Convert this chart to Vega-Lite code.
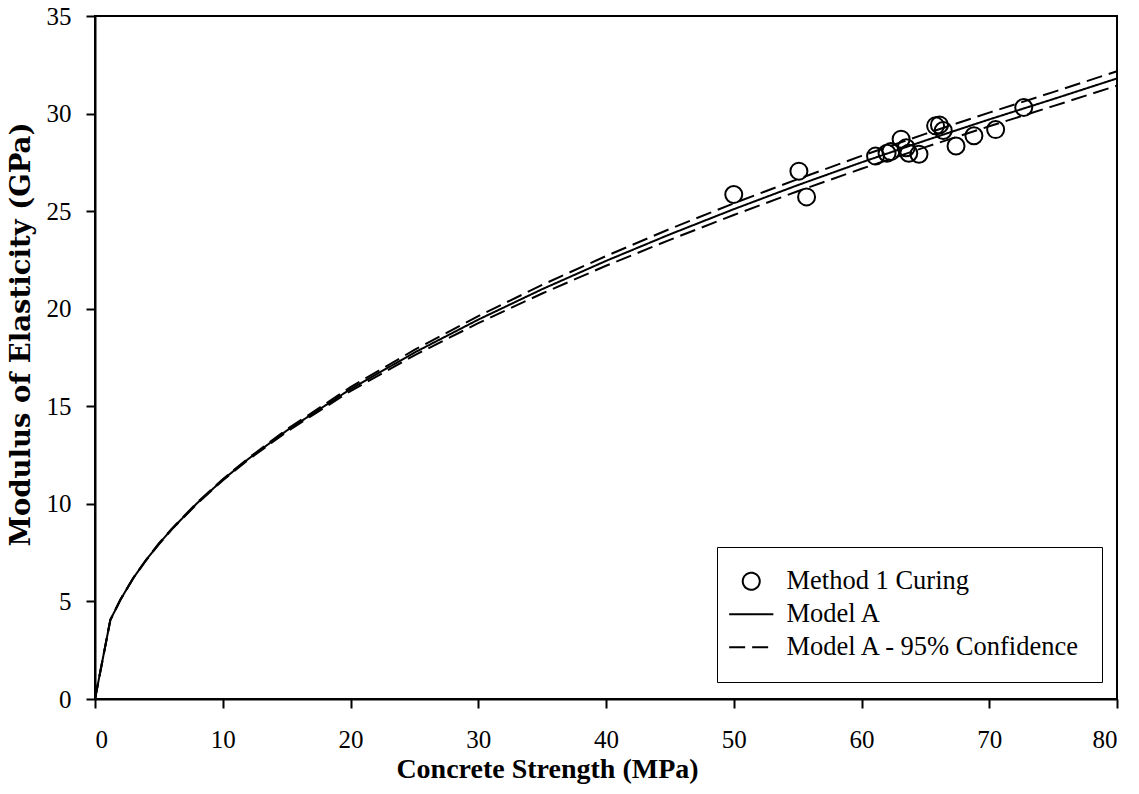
{
  "$schema": "https://vega.github.io/schema/vega-lite/v6.json",
  "width": 1022,
  "height": 683,
  "autosize": "none",
  "padding": {"left": 95, "top": 16, "right": 22, "bottom": 95},
  "background": "white",
  "config": {
    "view": {"stroke": "black", "strokeWidth": 2},
    "font": "Liberation Serif",
    "axis": {
      "domainColor": "black", "domainWidth": 2, "tickColor": "black", "tickWidth": 2, "tickSize": 9,
      "grid": false, "labelFont": "Liberation Serif", "labelFontSize": 25, "labelColor": "black",
      "titleFont": "Liberation Serif", "titleFontSize": 28, "titleFontWeight": "bold", "titleColor": "black"
    },
    "legend": {
      "orient": "none", "legendX": 622, "legendY": 531,
      "strokeColor": "black", "padding": 21, "fillColor": "white",
      "labelFont": "Liberation Serif", "labelFontSize": 26.5, "labelColor": "black", "labelOffset": 22, "labelLimit": 0,
      "rowPadding": 6, "symbolSize": 289, "symbolStrokeWidth": 2, "symbolStrokeColor": "black",
      "symbolFillColor": "transparent"
    }
  },
  "datasets": {
    "points": [
      {"f": 50.0, "E": 25.85, "series": "Method 1 Curing"},
      {"f": 55.1, "E": 27.05, "series": "Method 1 Curing"},
      {"f": 55.7, "E": 25.73, "series": "Method 1 Curing"},
      {"f": 61.1, "E": 27.82, "series": "Method 1 Curing"},
      {"f": 62.0, "E": 27.97, "series": "Method 1 Curing"},
      {"f": 62.3, "E": 28.05, "series": "Method 1 Curing"},
      {"f": 63.1, "E": 28.69, "series": "Method 1 Curing"},
      {"f": 63.5, "E": 28.25, "series": "Method 1 Curing"},
      {"f": 63.7, "E": 27.97, "series": "Method 1 Curing"},
      {"f": 64.5, "E": 27.92, "series": "Method 1 Curing"},
      {"f": 65.8, "E": 29.37, "series": "Method 1 Curing"},
      {"f": 66.1, "E": 29.42, "series": "Method 1 Curing"},
      {"f": 66.4, "E": 29.13, "series": "Method 1 Curing"},
      {"f": 67.4, "E": 28.34, "series": "Method 1 Curing"},
      {"f": 68.8, "E": 28.86, "series": "Method 1 Curing"},
      {"f": 70.5, "E": 29.18, "series": "Method 1 Curing"},
      {"f": 72.7, "E": 30.31, "series": "Method 1 Curing"}
    ],
    "curves": [
      {"f": 0, "E": 0, "series": "Model A", "part": "main"},
      {"f": 1.2, "E": 4.05, "series": "Model A", "part": "main"},
      {"f": 2, "E": 5.1, "series": "Model A", "part": "main"},
      {"f": 3, "E": 6.2, "series": "Model A", "part": "main"},
      {"f": 4, "E": 7.12, "series": "Model A", "part": "main"},
      {"f": 5, "E": 7.95, "series": "Model A", "part": "main"},
      {"f": 6, "E": 8.7, "series": "Model A", "part": "main"},
      {"f": 8, "E": 10.04, "series": "Model A", "part": "main"},
      {"f": 10, "E": 11.23, "series": "Model A", "part": "main"},
      {"f": 12, "E": 12.3, "series": "Model A", "part": "main"},
      {"f": 15, "E": 13.75, "series": "Model A", "part": "main"},
      {"f": 20, "E": 15.88, "series": "Model A", "part": "main"},
      {"f": 25, "E": 17.75, "series": "Model A", "part": "main"},
      {"f": 30, "E": 19.44, "series": "Model A", "part": "main"},
      {"f": 35, "E": 21.0, "series": "Model A", "part": "main"},
      {"f": 40, "E": 22.45, "series": "Model A", "part": "main"},
      {"f": 45, "E": 23.81, "series": "Model A", "part": "main"},
      {"f": 50, "E": 25.1, "series": "Model A", "part": "main"},
      {"f": 55, "E": 26.33, "series": "Model A", "part": "main"},
      {"f": 60, "E": 27.5, "series": "Model A", "part": "main"},
      {"f": 65, "E": 28.62, "series": "Model A", "part": "main"},
      {"f": 70, "E": 29.7, "series": "Model A", "part": "main"},
      {"f": 75, "E": 30.74, "series": "Model A", "part": "main"},
      {"f": 80, "E": 31.8, "series": "Model A", "part": "main"},

      {"f": 0, "E": 0, "series": "Model A - 95% Confidence", "part": "upper"},
      {"f": 1.2, "E": 4.06, "series": "Model A - 95% Confidence", "part": "upper"},
      {"f": 2, "E": 5.11, "series": "Model A - 95% Confidence", "part": "upper"},
      {"f": 3, "E": 6.21, "series": "Model A - 95% Confidence", "part": "upper"},
      {"f": 4, "E": 7.13, "series": "Model A - 95% Confidence", "part": "upper"},
      {"f": 5, "E": 7.97, "series": "Model A - 95% Confidence", "part": "upper"},
      {"f": 6, "E": 8.72, "series": "Model A - 95% Confidence", "part": "upper"},
      {"f": 8, "E": 10.07, "series": "Model A - 95% Confidence", "part": "upper"},
      {"f": 10, "E": 11.26, "series": "Model A - 95% Confidence", "part": "upper"},
      {"f": 12, "E": 12.34, "series": "Model A - 95% Confidence", "part": "upper"},
      {"f": 15, "E": 13.81, "series": "Model A - 95% Confidence", "part": "upper"},
      {"f": 20, "E": 15.98, "series": "Model A - 95% Confidence", "part": "upper"},
      {"f": 25, "E": 17.89, "series": "Model A - 95% Confidence", "part": "upper"},
      {"f": 30, "E": 19.62, "series": "Model A - 95% Confidence", "part": "upper"},
      {"f": 35, "E": 21.22, "series": "Model A - 95% Confidence", "part": "upper"},
      {"f": 40, "E": 22.7, "series": "Model A - 95% Confidence", "part": "upper"},
      {"f": 45, "E": 24.09, "series": "Model A - 95% Confidence", "part": "upper"},
      {"f": 50, "E": 25.4, "series": "Model A - 95% Confidence", "part": "upper"},
      {"f": 55, "E": 26.64, "series": "Model A - 95% Confidence", "part": "upper"},
      {"f": 60, "E": 27.83, "series": "Model A - 95% Confidence", "part": "upper"},
      {"f": 65, "E": 28.96, "series": "Model A - 95% Confidence", "part": "upper"},
      {"f": 70, "E": 30.05, "series": "Model A - 95% Confidence", "part": "upper"},
      {"f": 75, "E": 31.1, "series": "Model A - 95% Confidence", "part": "upper"},
      {"f": 80, "E": 32.17, "series": "Model A - 95% Confidence", "part": "upper"},

      {"f": 0, "E": 0, "series": "Model A - 95% Confidence", "part": "lower"},
      {"f": 1.2, "E": 4.04, "series": "Model A - 95% Confidence", "part": "lower"},
      {"f": 2, "E": 5.09, "series": "Model A - 95% Confidence", "part": "lower"},
      {"f": 3, "E": 6.19, "series": "Model A - 95% Confidence", "part": "lower"},
      {"f": 4, "E": 7.11, "series": "Model A - 95% Confidence", "part": "lower"},
      {"f": 5, "E": 7.93, "series": "Model A - 95% Confidence", "part": "lower"},
      {"f": 6, "E": 8.68, "series": "Model A - 95% Confidence", "part": "lower"},
      {"f": 8, "E": 10.01, "series": "Model A - 95% Confidence", "part": "lower"},
      {"f": 10, "E": 11.2, "series": "Model A - 95% Confidence", "part": "lower"},
      {"f": 12, "E": 12.26, "series": "Model A - 95% Confidence", "part": "lower"},
      {"f": 15, "E": 13.69, "series": "Model A - 95% Confidence", "part": "lower"},
      {"f": 20, "E": 15.78, "series": "Model A - 95% Confidence", "part": "lower"},
      {"f": 25, "E": 17.61, "series": "Model A - 95% Confidence", "part": "lower"},
      {"f": 30, "E": 19.26, "series": "Model A - 95% Confidence", "part": "lower"},
      {"f": 35, "E": 20.78, "series": "Model A - 95% Confidence", "part": "lower"},
      {"f": 40, "E": 22.2, "series": "Model A - 95% Confidence", "part": "lower"},
      {"f": 45, "E": 23.53, "series": "Model A - 95% Confidence", "part": "lower"},
      {"f": 50, "E": 24.8, "series": "Model A - 95% Confidence", "part": "lower"},
      {"f": 55, "E": 26.02, "series": "Model A - 95% Confidence", "part": "lower"},
      {"f": 60, "E": 27.17, "series": "Model A - 95% Confidence", "part": "lower"},
      {"f": 65, "E": 28.28, "series": "Model A - 95% Confidence", "part": "lower"},
      {"f": 70, "E": 29.35, "series": "Model A - 95% Confidence", "part": "lower"},
      {"f": 75, "E": 30.38, "series": "Model A - 95% Confidence", "part": "lower"},
      {"f": 80, "E": 31.43, "series": "Model A - 95% Confidence", "part": "lower"}
    ]
  },
  "encoding": {
    "x": {
      "field": "f", "type": "quantitative",
      "scale": {"domain": [0, 80], "nice": false, "zero": true},
      "axis": {"values": [0, 10, 20, 30, 40, 50, 60, 70, 80], "title": "Concrete Strength (MPa)",
               "labelPadding": 19, "titleX": 452, "titleY": 70, "titleBaseline": "middle", "titleAlign": "center"}
    },
    "y": {
      "field": "E", "type": "quantitative",
      "scale": {"domain": [0, 35], "nice": false},
      "axis": {"values": [0, 5, 10, 15, 20, 25, 30, 35], "title": "Modulus of Elasticity (GPa)",
               "labelPadding": 15, "titleX": -74, "titleY": 318, "titleBaseline": "middle", "titleAlign": "center", "titleAngle": -90,
               "titleFont": "DejaVu Serif", "titleFontSize": 27.5}
    }
  },
  "layer": [
    {
      "data": {"name": "curves"},
      "mark": {"type": "line", "color": "black", "strokeWidth": 2},
      "encoding": {
        "strokeDash": {
          "field": "series", "type": "nominal",
          "scale": {"domain": ["Method 1 Curing", "Model A", "Model A - 95% Confidence"], "range": [[1, 0], [1, 0], [16, 7]]},
          "legend": {"title": null}
        },
        "detail": {"field": "part"},
        "order": {"field": "f", "type": "quantitative"}
      }
    },
    {
      "data": {"name": "points"},
      "mark": {"type": "point", "filled": false, "color": "black", "size": 289, "strokeWidth": 2, "opacity": 1},
      "encoding": {
        "shape": {
          "field": "series", "type": "nominal",
          "scale": {"domain": ["Method 1 Curing", "Model A", "Model A - 95% Confidence"], "range": ["circle", "M-2.6,0H2.6", "M-2.6,0H2.6"]},
          "legend": {"title": null}
        }
      }
    }
  ]
}
